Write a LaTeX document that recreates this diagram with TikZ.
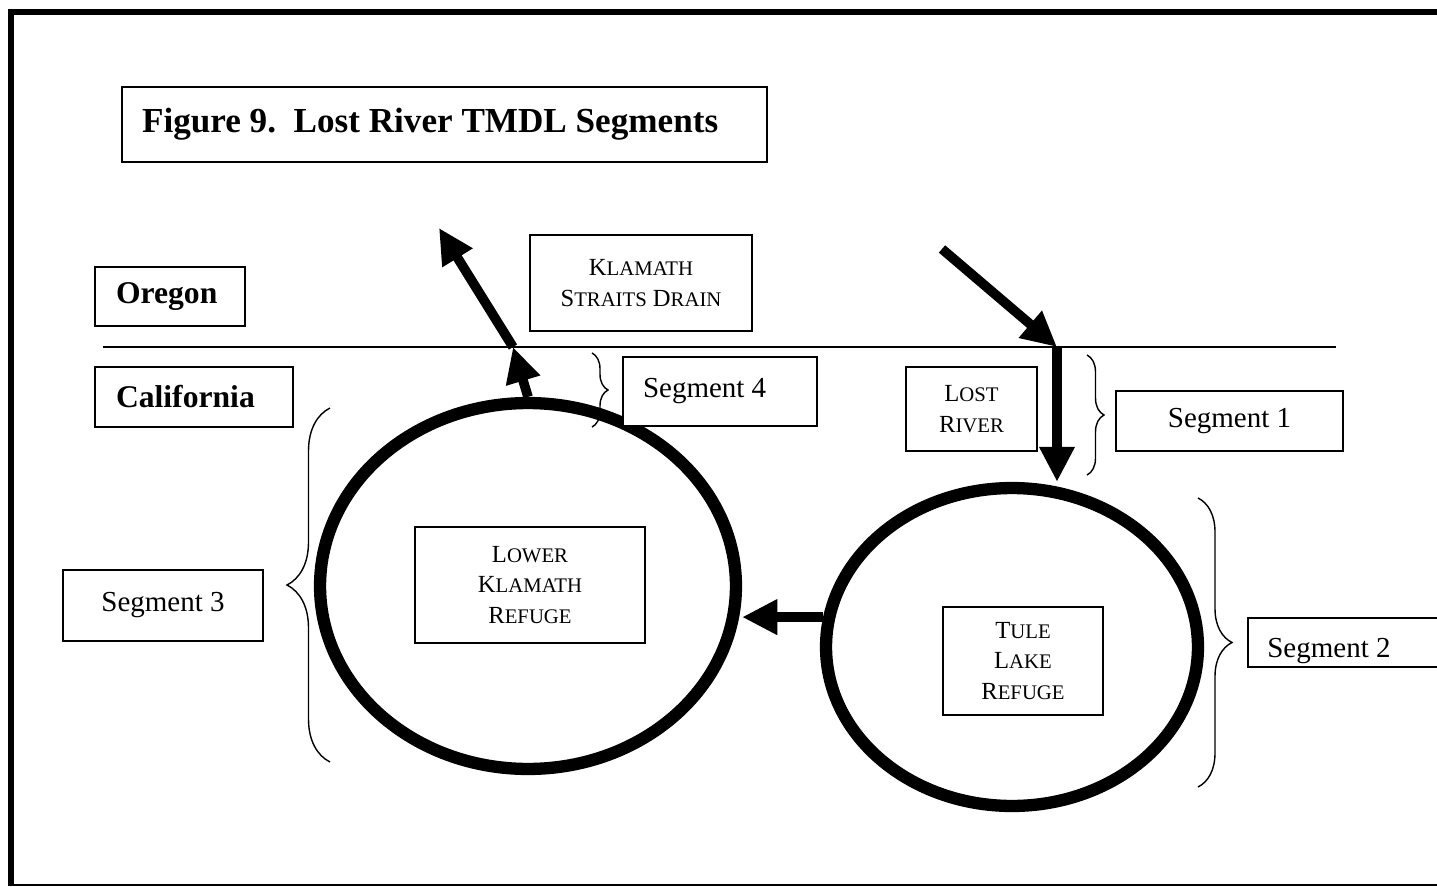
\documentclass[tikz,border=0pt]{standalone}
\usepackage{fontspec}
\setmainfont{Liberation Serif}
\usepackage{xcolor}
\usepackage{tikz}
\usetikzlibrary{arrows.meta,calc,shapes.geometric,decorations.pathreplacing}
\definecolor{figline}{RGB}{0,0,0}
\newcommand\capsc[2]{#1{\fontsize{11.8}{17.6}\selectfont #2}}
\tikzset{
  bx/.style   ={draw=figline, line width=1pt, fill=white, inner sep=0pt},
  bxl/.style  ={bx, align=flush left, inner xsep=0.42cm},
  lab/.style  ={font=\fontsize{18}{22}\selectfont\bfseries},
  seg/.style  ={font=\fontsize{16.5}{20}\selectfont},
  nm/.style   ={font=\fontsize{14}{17.6}\selectfont, align=center},
  lake/.style ={draw=figline, ellipse, line width=7pt, inner sep=0pt},
  flow/.style ={draw=figline, line width=5.5pt, -{Triangle[length=20pt,width=19pt]}},
  brc/.style  ={draw=figline, line width=0.8pt, decorate, decoration={brace,amplitude=#1}},
}
\begin{document}
\begin{tikzpicture}[x=0.02cm,y=-0.02cm]
  \useasboundingbox (0,0) rectangle (1437,886);
  \draw[figline,line width=3.4pt] (11,886) -- (11,12) -- (1450,12);
  \draw[figline,line width=1pt] (11,885) -- (1450,885);
  \draw[figline,line width=1pt] (103,347) -- (1336,347);
  \node[lake,minimum width=8.32cm,minimum height=7.32cm] (lower) at (528,586) {};
  \node[lake,minimum width=7.44cm,minimum height=6.36cm] (tule) at (1012,647) {};
  \node[bxl,minimum width=12.9cm,minimum height=1.5cm,text width=12.1cm,inner xsep=0.4cm,font=\fontsize{20}{24}\selectfont\bfseries] (title) at (444.5,124.5) {Figure 9.~~Lost River TMDL Segments};
  \node[bxl,lab,minimum width=3cm,minimum height=1.18cm,text width=2.16cm] (oregon) at (170,296.5) {Oregon};
  \node[bxl,lab,minimum width=3.96cm,minimum height=1.2cm,text width=3.12cm] (calif) at (194,397) {California};
  \node[bx,nm,minimum width=4.44cm,minimum height=1.92cm] (ksd) at (641,283) {\capsc{K}{LAMATH}\\\capsc{S}{TRAITS} \capsc{D}{RAIN}};
  \node[bxl,seg,minimum width=3.88cm,minimum height=1.38cm,text width=3.08cm,inner xsep=0.4cm] (seg4) at (720,391.5) {Segment 4};
  \node[bx,nm,minimum width=2.62cm,minimum height=1.68cm] (lost) at (971.5,409) {\capsc{L}{OST}\\\capsc{R}{IVER}};
  \node[bx,seg,minimum width=4.54cm,minimum height=1.2cm] (seg1) at (1229.5,421) {Segment 1};
  \node[bx,seg,minimum width=4cm,minimum height=1.42cm] (seg3) at (163,605.5) {Segment 3};
  \node[bx,anchor=west,minimum width=4.66cm,minimum height=0.98cm] (seg2) at (1247,642.5) {};
  \node[seg,anchor=base west,inner sep=0pt] (seg2txt) at (1267,657) {Segment 2};
  \node[bx,nm,minimum width=4.6cm,minimum height=2.32cm] (lkr) at (530,585) {\capsc{L}{OWER}\\\capsc{K}{LAMATH}\\\capsc{R}{EFUGE}};
  \node[bx,nm,minimum width=3.2cm,minimum height=2.16cm] (tlr) at (1023,661) {\capsc{T}{ULE}\\\capsc{L}{AKE}\\\capsc{R}{EFUGE}};
  \coordinate (lrsrc) at (942,249);
  \coordinate (lrin) at (1057,347);
  \coordinate (ksout) at (513,347);
  \coordinate (kssink) at (439,228);
  \draw[flow] (lrsrc) -- (lrin);
  \draw[flow] (lrin) -- (lrin |- tule.north);
  \draw[flow] (lower.north) -- (ksout);
  \draw[flow] (ksout) -- (kssink);
  \draw[flow] (tule.171) -- (tule.171 -| lower.east);
  \draw[brc=0.86cm] (330,762) -- (330,408);
  \draw[brc=0.32cm] (592,353) -- (592,427);
  \draw[brc=0.34cm] (1087,355) -- (1087,475);
  \draw[brc=0.68cm] (1198,498) -- (1198,787);
\end{tikzpicture}
\end{document}
